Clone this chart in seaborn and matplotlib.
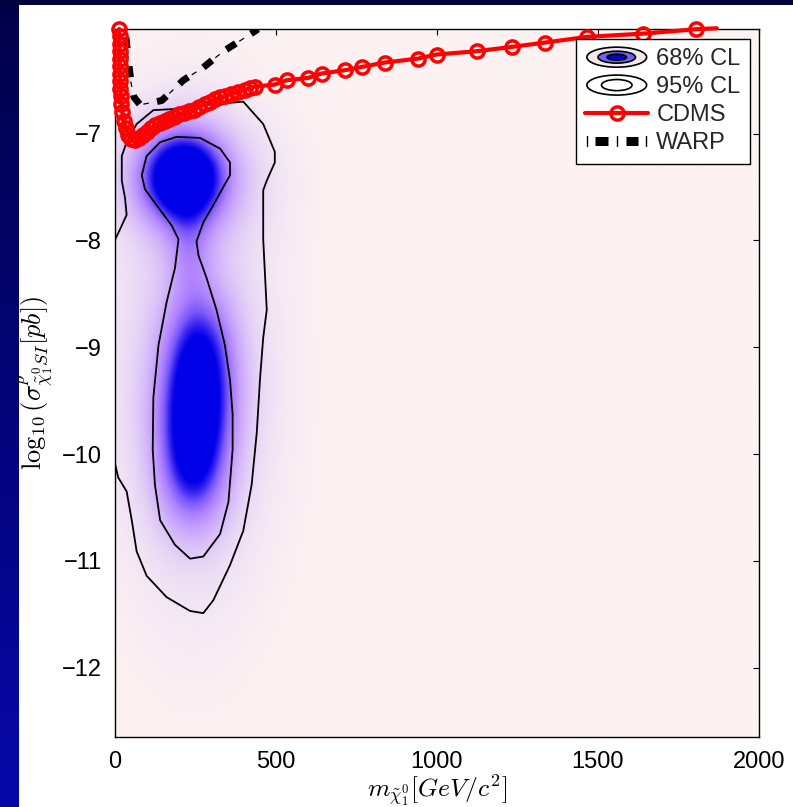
import numpy as np
import matplotlib
matplotlib.use('Agg')
import matplotlib.pyplot as plt
import seaborn as sns
from matplotlib.colors import LinearSegmentedColormap
from matplotlib.patches import Ellipse, Rectangle, Patch
from matplotlib.legend_handler import HandlerBase
from matplotlib.lines import Line2D

# ---------------- data ----------------
# CDMS exclusion limit (mass GeV, log10 sigma)
cdms_x = [14, 15, 15, 16, 16, 16, 17, 17, 18, 19, 21, 24, 28, 34, 42, 52, 63, 75, 88, 100,
          113, 125, 140, 155, 170, 185, 200, 215, 230, 245, 262, 280, 296, 311, 327, 343,
          360, 384, 405, 420, 435, 497, 534, 601, 642, 715, 767, 839, 942, 999, 1124,
          1232, 1336, 1465, 1641, 1804, 1869]
cdms_y = [-6.02, -6.09, -6.16, -6.23, -6.30, -6.37, -6.44, -6.51, -6.58, -6.65, -6.72,
          -6.80, -6.88, -6.95, -7.01, -7.05, -7.06, -7.04, -7.01, -6.98, -6.95, -6.92,
          -6.90, -6.88, -6.86, -6.84, -6.82, -6.81, -6.79, -6.78, -6.75, -6.72, -6.70,
          -6.68, -6.66, -6.65, -6.63, -6.61, -6.59, -6.57, -6.56, -6.54, -6.50, -6.478,
          -6.437, -6.406, -6.375, -6.334, -6.297, -6.259, -6.228, -6.188, -6.147,
          -6.094, -6.063, -6.022, -6.013]

# WARP exclusion limit
warp_x = [32, 42, 51, 60, 79, 146, 213, 275, 337, 410, 445]
warp_y = [-6.02, -6.30, -6.53, -6.66, -6.73, -6.69, -6.50, -6.38, -6.23, -6.09, -6.02]

# 68% CL contour
c68_x = [84, 99, 141, 192, 265, 327, 358, 358, 337, 306, 275, 254, 260, 285, 316, 342,
         358, 366, 366, 353, 327, 275, 234, 187, 141, 125, 118, 120, 136, 161, 187, 198,
         177, 130, 94, 84]
c68_y = [-7.39, -7.21, -7.08, -7.03, -7.04, -7.14, -7.27, -7.39, -7.50, -7.67, -7.83,
         -8.01, -8.14, -8.35, -8.65, -8.98, -9.31, -9.63, -9.96, -10.45, -10.75, -10.96,
         -10.98, -10.85, -10.62, -10.29, -9.96, -9.47, -8.98, -8.58, -8.26, -7.99, -7.86,
         -7.67, -7.52, -7.39]

# 95% CL contour
c95_x = [0, 16, 37, 32, 22, 22, 37, 68, 120, 182, 290, 399, 461, 497, 497, 472, 461,
         461, 472, 461, 451, 441, 425, 399, 358, 306, 275, 234, 161, 99, 68, 53, 37, 11, 0]
c95_y = [-8.00, -7.90, -7.76, -7.60, -7.44, -7.21, -7.08, -6.91, -6.78, -6.77, -6.73,
         -6.70, -6.91, -7.17, -7.27, -7.44, -7.53, -7.99, -8.65, -8.91, -9.30, -9.80,
         -10.29, -10.72, -11.04, -11.37, -11.49, -11.47, -11.34, -11.14, -10.91, -10.62,
         -10.35, -10.22, -10.08]

# posterior density components read from the shading (centre x, centre y, width x, width y, weight)
blob_x = [210, 262, 250, 240, 230, 240, 220]
blob_y = [-7.40, -9.0, -9.6, -10.2, -8.1, -9.3, -7.4]
blob_sx = [92, 76, 82, 76, 50, 160, 170]
blob_sy = [0.30, 0.4, 0.4, 0.4, 0.3, 1.3, 0.45]
blob_w = [1.12, 0.58, 0.7, 0.6, 0.25, 0.3, 0.25]

x_ticks = [0, 500, 1000, 1500, 2000]
y_ticks = [-12, -11, -10, -9, -8, -7]
legend_labels = ['68% CL', '95% CL', 'CDMS', 'WARP']

# ---------------- style ----------------
sns.set_theme(style='white')
plt.rcParams['font.family'] = ['Liberation Sans', 'DejaVu Sans']
plt.rcParams['mathtext.fontset'] = 'cm'
plt.rcParams['lines.scale_dashes'] = False

W, H = 793, 807
fig = plt.figure(figsize=(W / 100, H / 100), dpi=100)
fig.patch.set_facecolor('white')

# slide frame
gax = fig.add_axes([0, 0, 19 / W, 1])
grad = np.linspace(0, 1, 256).reshape(-1, 1)
frame_cmap = LinearSegmentedColormap.from_list('frame', ['#000048', '#0808aa'])
gax.imshow(grad, aspect='auto', cmap=frame_cmap, origin='upper', extent=[0, 1, 0, 1])
gax.set_axis_off()
fig.add_artist(Rectangle((0, 1 - 5 / H), 1, 5 / H, transform=fig.transFigure,
                         facecolor='#00003a', edgecolor='none', zorder=5))

L, R, T, B = 114.7, 759, 29, 737
ax = fig.add_axes([L / W, 1 - B / H, (R - L) / W, (B - T) / H])

xmin, xmax, ymin, ymax = 0, 2000, -12.65, -6.02

# density shading
gx = np.linspace(xmin, xmax, 500)
gy = np.linspace(ymin, ymax, 500)
XX, YY = np.meshgrid(gx, gy)
field = np.zeros_like(XX)
for cx, cy, sx, sy, w in zip(blob_x, blob_y, blob_sx, blob_sy, blob_w):
    field += w * np.exp(-0.5 * (((XX - cx) / sx) ** 2 + ((YY - cy) / sy) ** 2))
dens_cmap = LinearSegmentedColormap.from_list('dens', [
    (0.0, '#fdf2f2'), (0.06, '#f5e9f4'), (0.18, '#e8d6f6'), (0.32, '#d8bcf9'),
    (0.48, '#c39dfc'), (0.62, '#ab7eff'), (0.76, '#7a58fa'), (0.9, '#2e1ef0'),
    (1.0, '#0000e8')])
ax.imshow(field, extent=[xmin, xmax, ymin, ymax], origin='lower', aspect='auto',
          cmap=dens_cmap, vmin=0, vmax=1, interpolation='bilinear', zorder=0)

# contours
sns.lineplot(x=c95_x, y=c95_y, sort=False, estimator=None, color='black', lw=1.3, ax=ax, zorder=3)
sns.lineplot(x=c68_x, y=c68_y, sort=False, estimator=None, color='black', lw=1.3, ax=ax, zorder=3)

# WARP : thick dashes + thin dots
warp_thick = (15, (8, 13))
warp_thin = (4, (4, 17))
sns.lineplot(x=warp_x, y=warp_y, sort=False, estimator=None, color='black', lw=5,
             linestyle=warp_thick, dash_capstyle='butt', ax=ax, zorder=4)
sns.lineplot(x=warp_x, y=warp_y, sort=False, estimator=None, color='black', lw=0.9,
             linestyle=warp_thin, dash_capstyle='butt', ax=ax, zorder=4)

# CDMS
sns.lineplot(x=cdms_x, y=cdms_y, sort=False, estimator=None, color='red', lw=3,
             marker='o', markersize=9.5, markerfacecolor='none', markeredgecolor='red',
             markeredgewidth=2.5, markevery=list(range(len(cdms_x) - 1)),
             clip_on=False, ax=ax, zorder=6)

ax.set_xlim(xmin, xmax)
ax.set_ylim(ymin, ymax)
ax.set_xticks(x_ticks)
ax.set_yticks(y_ticks)
ax.set_xticklabels([str(v) for v in x_ticks])
ax.set_yticklabels(['\u2212' + str(abs(v)) for v in y_ticks])
ax.tick_params(direction='in', length=4.5, width=0.8, top=True, right=True,
               labelsize=17, colors='black', pad=9)
ax.tick_params(axis='x', pad=10)
for s in ax.spines.values():
    s.set_color('black')
    s.set_linewidth(1.0)
    s.set_visible(True)
ax.grid(False)

ax.set_xlabel(r'$m_{\tilde{\chi}^0_1}[GeV/c^2]$', fontsize=18.5, color='black', labelpad=0)
ax.set_ylabel(r'$\log_{10}(\sigma^{p}_{\tilde{\chi}^0_1 SI}[pb])$', fontsize=19,
              color='black', labelpad=5)


# legend handlers
class EllipseHandler(HandlerBase):
    def __init__(self, sizes, faces):
        super().__init__()
        self.sizes = sizes
        self.faces = faces

    def create_artists(self, legend, orig_handle, xdescent, ydescent, width, height,
                       fontsize, trans):
        cx = width / 2 - xdescent
        cy = height / 2 - ydescent
        arts = []
        for (ew, eh), fc in zip(self.sizes, self.faces):
            arts.append(Ellipse((cx, cy), ew, eh, facecolor=fc, edgecolor='black', lw=1.2,
                                transform=trans))
        return arts


class WarpHandler(HandlerBase):
    def create_artists(self, legend, orig_handle, xdescent, ydescent, width, height,
                       fontsize, trans):
        x0 = -xdescent
        cy = height / 2 - ydescent
        arts = []
        for f in [0.03, 0.5, 0.97]:
            arts.append(Line2D([x0 + f * width, x0 + f * width], [cy - 3.5, cy + 3.5],
                               color='black', lw=1.0, transform=trans))
        for f0, f1 in [(0.16, 0.36), (0.64, 0.84)]:
            arts.append(Line2D([x0 + f0 * width, x0 + f1 * width], [cy, cy], color='black',
                               lw=6.5, solid_capstyle='butt', transform=trans))
        return arts


h68 = Patch()
h95 = Patch()
hwarp = Patch()
h_cdms = Line2D([], [], color='red', lw=3, marker='o', markersize=9.5,
                markerfacecolor='none', markeredgecolor='red', markeredgewidth=2.5)

leg = ax.legend([h68, h95, h_cdms, hwarp], legend_labels,
                handler_map={
                    h68: EllipseHandler([(43, 14.4), (27, 8.6), (14, 4.3)],
                                        ['#f5e6f0', '#6a66f2', '#0000e0']),
                    h95: EllipseHandler([(43, 14.4), (22, 8)], ['none', 'none']),
                    hwarp: WarpHandler()},
                loc='upper right', bbox_to_anchor=(750 / W, 1 - 39 / H),
                bbox_transform=fig.transFigure, borderaxespad=0, fontsize=17,
                numpoints=1, handlelength=2.65, handletextpad=0.35, labelspacing=0.25,
                borderpad=0.4, fancybox=False, framealpha=1, edgecolor='black',
                facecolor='white')
leg.get_frame().set_linewidth(1.0)
leg.set_zorder(10)

fig.savefig('out.png', dpi=100, facecolor=fig.get_facecolor())
